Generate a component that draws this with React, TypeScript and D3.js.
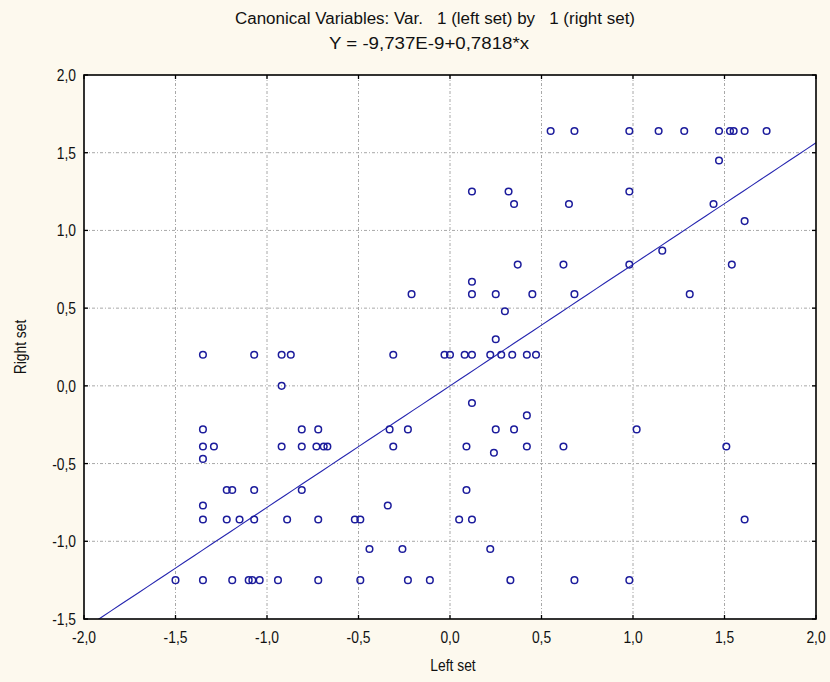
import React from "react";
import * as d3 from "d3";

const titleLine1 = "Canonical Variables: Var.   1 (left set) by   1 (right set)";
const titleLine2 = "Y = -9,737E-9+0,7818*x";
const xLabel = "Left set";
const yLabel = "Right set";

const xTicks = [-2, -1.5, -1, -0.5, 0, 0.5, 1, 1.5, 2];
const yTicks = [-1.5, -1, -0.5, 0, 0.5, 1, 1.5, 2];

const intercept = -9.737e-9;
const slope = 0.7818;

// Left set (x) and right set (y) canonical scores
const leftSet = [
  0.55, 0.68, 0.98, 1.14, 1.28, 1.47, 1.53, 1.55, 1.61, 1.73,
  1.47,
  0.12, 0.32, 0.98,
  0.35, 0.65, 1.44,
  1.61,
  1.16,
  0.37, 0.62, 0.98, 1.54,
  0.12,
  -0.21, 0.12, 0.25, 0.45, 0.68, 1.31,
  0.30,
  0.25,
  -1.35, -1.07, -0.92, -0.87, -0.31, -0.03, 0.0, 0.08, 0.12, 0.22, 0.28, 0.34, 0.42, 0.47,
  -0.92,
  0.12,
  0.42,
  -1.35, -0.81, -0.72, -0.33, -0.23, 0.25, 0.35, 1.02,
  -1.35, -1.29, -0.92, -0.81, -0.73, -0.69, -0.67, -0.31, 0.09, 0.42, 0.62, 1.51,
  0.24,
  -1.35,
  -1.22, -1.19, -1.07, -0.81, 0.09,
  -1.35, -0.34,
  -1.35, -1.22, -1.15, -1.07, -0.89, -0.72, -0.52, -0.49, 0.05, 0.12, 1.61,
  -0.44, -0.26, 0.22,
  -1.5, -1.35, -1.19, -1.1, -1.08, -1.04, -0.94, -0.72, -0.49, -0.23, -0.11, 0.33, 0.68, 0.98,
];

const rightSet = [
  1.64, 1.64, 1.64, 1.64, 1.64, 1.64, 1.64, 1.64, 1.64, 1.64,
  1.45,
  1.25, 1.25, 1.25,
  1.17, 1.17, 1.17,
  1.06,
  0.87,
  0.78, 0.78, 0.78, 0.78,
  0.67,
  0.59, 0.59, 0.59, 0.59, 0.59, 0.59,
  0.48,
  0.30,
  0.2, 0.2, 0.2, 0.2, 0.2, 0.2, 0.2, 0.2, 0.2, 0.2, 0.2, 0.2, 0.2, 0.2,
  0.0,
  -0.11,
  -0.19,
  -0.28, -0.28, -0.28, -0.28, -0.28, -0.28, -0.28, -0.28,
  -0.39, -0.39, -0.39, -0.39, -0.39, -0.39, -0.39, -0.39, -0.39, -0.39, -0.39, -0.39,
  -0.43,
  -0.47,
  -0.67, -0.67, -0.67, -0.67, -0.67,
  -0.77, -0.77,
  -0.86, -0.86, -0.86, -0.86, -0.86, -0.86, -0.86, -0.86, -0.86, -0.86, -0.86,
  -1.05, -1.05, -1.05,
  -1.25, -1.25, -1.25, -1.25, -1.25, -1.25, -1.25, -1.25, -1.25, -1.25, -1.25, -1.25, -1.25, -1.25,
];

const W = 830;
const H = 682;
const left = 84;
const right = 816;
const top = 75;
const bottom = 619;

const FONT = "'Liberation Sans', Arial, sans-serif";
const SX = 0.84;
const fmt = (v: number) => v.toFixed(1).replace(".", ",");

function NText(props: {
  x: number;
  y: number;
  anchor: "start" | "middle" | "end";
  size: number;
  rotate?: number;
  children: React.ReactNode;
}) {
  const { x, y, anchor, size, rotate, children } = props;
  const tr = `translate(${x},${y})${rotate ? ` rotate(${rotate})` : ""} scale(${SX},1)`;
  return (
    <text
      transform={tr}
      textAnchor={anchor}
      fontFamily={FONT}
      fontSize={size}
      fill="#111"
      style={{ whiteSpace: "pre" }}
    >
      {children}
    </text>
  );
}

export default function App() {
  const x = d3.scaleLinear().domain([-2, 2]).range([left, right]);
  const y = d3.scaleLinear().domain([-1.5, 2]).range([bottom, top]);
  const fitX = d3.range(-2, 2.0001, 0.05);
  const line = d3
    .line<number>()
    .x((d) => x(d))
    .y((d) => y(intercept + slope * d));
  const points = leftSet.map((lx, i) => [lx, rightSet[i]] as [number, number]);
  const grid = "#a8a8a8";
  const mark = "#1c1c9c";

  return (
    <svg
      width={W}
      height={H}
      style={{ position: "absolute", left: 0, top: 0, background: "#fdf9ee" }}
    >
      <defs>
        <clipPath id="plotClip">
          <rect x={left} y={top} width={right - left} height={bottom - top} />
        </clipPath>
      </defs>
      <rect x={0} y={0} width={W} height={H} fill="#fdf9ee" />
      <rect x={left} y={top} width={right - left} height={bottom - top} fill="#ffffff" />
      {xTicks.slice(1, -1).map((t) => (
        <line
          key={"gx" + t}
          x1={x(t)}
          x2={x(t)}
          y1={top}
          y2={bottom}
          stroke={grid}
          strokeWidth={1}
          strokeDasharray="3,2,1,2"
        />
      ))}
      {yTicks.slice(1, -1).map((t) => (
        <line
          key={"gy" + t}
          x1={left}
          x2={right}
          y1={y(t)}
          y2={y(t)}
          stroke={grid}
          strokeWidth={1}
          strokeDasharray="3,2,1,2"
        />
      ))}
      <g clipPath="url(#plotClip)">
        <path d={line(fitX) || ""} fill="none" stroke="#2626b0" strokeWidth={1.1} />
        {points.map((p, i) => (
          <circle
            key={i}
            cx={x(p[0])}
            cy={y(p[1])}
            r={3.3}
            fill="none"
            stroke={mark}
            strokeWidth={1.5}
          />
        ))}
      </g>
      {xTicks.map((t) => (
        <g key={"tx" + t}>
          <line x1={x(t)} x2={x(t)} y1={bottom} y2={bottom - 4} stroke="#000" strokeWidth={1.3} />
          <line x1={x(t)} x2={x(t)} y1={top} y2={top + 4} stroke="#000" strokeWidth={1.3} />
          <NText x={x(t)} y={bottom + 24} anchor="middle" size={16.5}>
            {fmt(t)}
          </NText>
        </g>
      ))}
      {yTicks.map((t) => (
        <g key={"ty" + t}>
          <line x1={left} x2={left + 4} y1={y(t)} y2={y(t)} stroke="#000" strokeWidth={1.3} />
          <line x1={right} x2={right - 4} y1={y(t)} y2={y(t)} stroke="#000" strokeWidth={1.3} />
          <NText x={left - 8} y={y(t) + 6} anchor="end" size={16.5}>
            {fmt(t)}
          </NText>
        </g>
      ))}
      <rect
        x={left}
        y={top}
        width={right - left}
        height={bottom - top}
        fill="none"
        stroke="#000"
        strokeWidth={1.6}
      />
      <text
        x={435}
        y={24}
        textAnchor="middle"
        fontFamily={FONT}
        fontSize={16}
        fill="#111"
        textLength={400}
        lengthAdjust="spacingAndGlyphs"
        style={{ whiteSpace: "pre" }}
      >
        {titleLine1}
      </text>
      <text
        x={429}
        y={49}
        textAnchor="middle"
        fontFamily={FONT}
        fontSize={16}
        fill="#111"
        textLength={200}
        lengthAdjust="spacingAndGlyphs"
      >
        {titleLine2}
      </text>
      <NText x={453} y={671} anchor="middle" size={16.5}>
        {xLabel}
      </NText>
      <NText x={26} y={(top + bottom) / 2} anchor="middle" size={16.5} rotate={-90}>
        {yLabel}
      </NText>
    </svg>
  );
}
